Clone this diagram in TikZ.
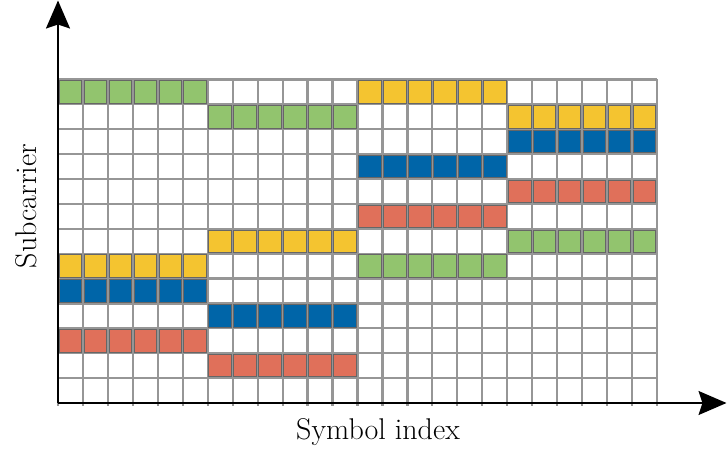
\documentclass[tikz,border=0pt]{standalone}
\usetikzlibrary{arrows.meta}
\definecolor{cg}{RGB}{146,196,110}
\definecolor{cy}{RGB}{244,196,48}
\definecolor{cb}{RGB}{0,101,168}
\definecolor{cr}{RGB}{224,112,90}
\definecolor{gridc}{RGB}{150,150,150}
\begin{document}
\begin{tikzpicture}[x=1pt,y=1pt,
  gridline/.style={draw=gridc,line width=2.2pt},
  cellbox/.style={draw=black!60,line width=1pt},
  axisline/.style={draw=black,line width=1.8pt,-{Stealth[length=28pt,width=24pt,inset=4pt]}},
  lab/.style={font=\fontsize{30}{36}\selectfont,inner sep=0pt}]
\useasboundingbox (0,0) rectangle (727,450);
\def\gx{58}\def\gt{370.5}\def\cw{24.958}\def\ch{24.885}
% grid
\foreach \i in {0,...,24}{
  \draw[gridline] ({\gx+\i*\cw},44.5) -- ({\gx+\i*\cw},\gt);
}
\foreach \j in {0,...,13}{
  \draw[gridline] (\gx,{\gt-\j*\ch}) -- ({\gx+24*\cw},{\gt-\j*\ch});
}
% colored blocks: row/group/color
\foreach \r/\g/\c in {0/0/cg,0/2/cy,1/1/cg,1/3/cy,2/3/cb,3/2/cb,4/3/cr,5/2/cr,6/1/cy,6/3/cg,7/0/cy,7/2/cg,8/0/cb,9/1/cb,10/0/cr,11/1/cr}{
  \foreach \k in {0,...,5}{
    \filldraw[cellbox,fill=\c]
      ({\gx+(\g*6+\k)*\cw+1.2},{\gt-(\r+1)*\ch+1.2}) rectangle
      ({\gx+(\g*6+\k+1)*\cw-1.2},{\gt-\r*\ch-1.2});
  }
}
% axes
\coordinate (o) at (58,47);
\coordinate (ytip) at (58,449.5);
\coordinate (xtip) at (726.5,47);
\draw[axisline] (o) -- (ytip);
\draw[axisline] (o) -- (xtip);
\node[lab,rotate=90] (ylab) at (26,244) {Subcarrier};
\node[lab] (xlab) at (378,18) {Symbol index};
\end{tikzpicture}
\end{document}
